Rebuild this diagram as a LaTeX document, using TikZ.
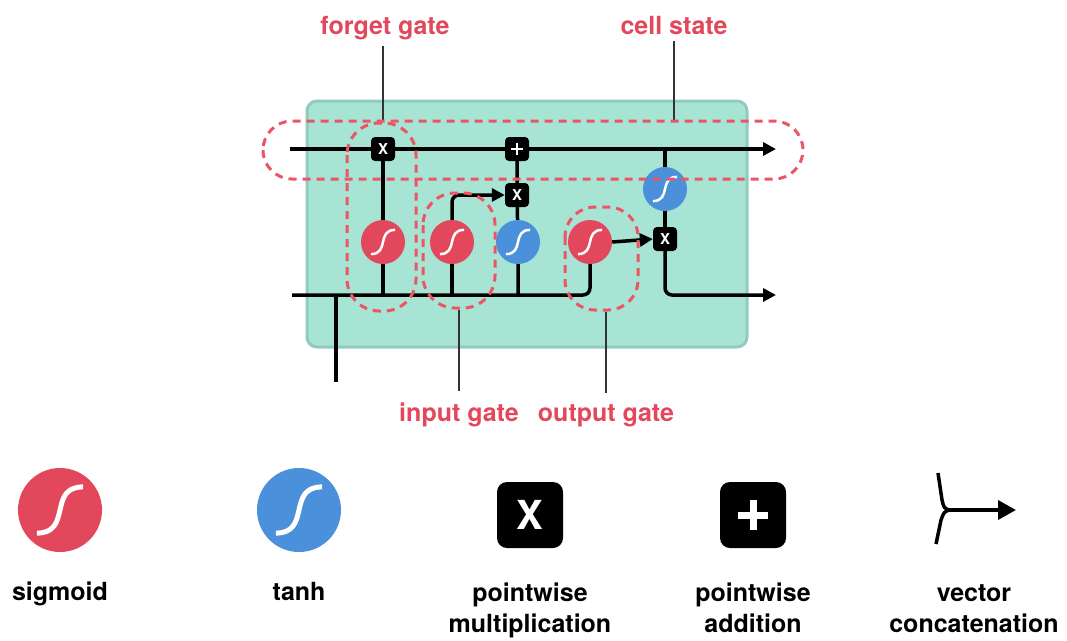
\documentclass[tikz,border=0pt]{standalone}
\usepackage{fontspec}
\setmainfont{TeX Gyre Heros}
\usetikzlibrary{arrows.meta,calc}
\definecolor{lred}{HTML}{E2475B}
\definecolor{dred}{HTML}{EC5564}
\definecolor{lblue}{HTML}{4A90DA}
\definecolor{lgreen}{HTML}{A7E4D4}
\definecolor{lgreenb}{HTML}{8FCCBB}
\pgfdeclarelayer{back}
\pgfdeclarelayer{mid}
\pgfdeclarelayer{front}
\pgfsetlayers{back,mid,main,front}
\tikzset{
  flow/.style={line width=3.5pt, line cap=butt},
  tipA/.style={-{Triangle[length=13pt,width=13pt]}},
  tipB/.style={-{Triangle[length=18pt,width=19pt]}},
  sigc/.style={circle, fill=lred, minimum size=44pt, inner sep=0pt},
  tanc/.style={circle, fill=lblue, minimum size=44pt, inner sep=0pt},
  opbox/.style={rectangle, rounded corners=4pt, fill=black, minimum size=24pt, inner sep=0pt, text=white, font=\fontsize{15}{15}\selectfont\bfseries},
  bigbox/.style={rectangle, rounded corners=10pt, fill=black, minimum size=66pt, inner sep=0pt, text=white, font=\fontsize{40}{40}\selectfont\bfseries},
  gatedash/.style={draw=dred, line width=3pt, dash pattern=on 8pt off 6pt},
  lbl/.style={text=lred, font=\fontsize{25}{30}\selectfont\bfseries, anchor=base},
  leg/.style={font=\fontsize{25}{31}\selectfont\bfseries, anchor=base, align=center},
  pointer/.style={line width=1.5pt, draw=black!80},
  sglyph/.style={draw=white, line width=2.5pt, line cap=butt},
}
\newcommand{\sgl}[3]{% center node, radius, width
  \draw[sglyph, line width=#3] ($(#1)+(-0.55*#2,0.55*#2)$) .. controls ($(#1)+(0.3*#2,0.55*#2)$) and ($(#1)+(-0.3*#2,-0.55*#2)$) .. ($(#1)+(0.55*#2,-0.55*#2)$);}
\begin{document}
\begin{tikzpicture}[x=1pt,y=-1pt]
\useasboundingbox (0,0) rectangle (1067,640);
% cell box
\begin{pgfonlayer}{back}
\draw[fill=lgreen, draw=lgreenb, line width=3pt, rounded corners=10pt] (307,101) rectangle (747,347);
\end{pgfonlayer}
% nodes
\node[opbox] (xf) at (383,149) {X};
\node[opbox] (plus) at (517,149) {};
\draw[white, line width=2.5pt] ($(plus)+(-6,0)$) -- ($(plus)+(6,0)$) ($(plus)+(0,-6)$) -- ($(plus)+(0,6)$);
\node[opbox] (xi) at (517,195) {X};
\node[opbox] (xo) at (665,239) {X};
\node[sigc] (sf) at (383,242) {};
\node[sigc] (si) at (452,242) {};
\node[tanc] (ti) at (518,242) {};
\node[sigc] (so) at (590,242) {};
\node[tanc] (tc) at (665,189) {};
\foreach \n in {sf,si,ti,so,tc}{\sgl{\n}{22}{2.5pt}}
% coordinates
\coordinate (csL) at (290,149);
\coordinate (csR) at (776,149);
\coordinate (hL) at (292,295);
\coordinate (hR) at (776,295);
\coordinate (xin) at (336,382);
\coordinate (xj) at (336,295);
\coordinate (bf) at (383,295);
\coordinate (bi) at (452,295);
\coordinate (bt) at (518,295);
\coordinate (ctap) at (665,149);
\begin{pgfonlayer}{mid}
\draw[flow, tipA] (csL) -- (csR);
\draw[flow, rounded corners=7pt] (hL) -| (so.south);
\draw[flow] (xj) -- (xin);
\draw[flow] (bf) -- (sf) -- (xf);
\draw[flow] (bi) -- (si);
\draw[flow, tipA, rounded corners=7pt] (si.north) |- (xi.west);
\draw[flow] (bt) -- (ti) -- (xi) -- (plus);
\draw[flow, tipA] (so.east) -- (xo.west);
\draw[flow] (ctap) -- (tc) -- (xo);
\draw[flow, tipA, rounded corners=7pt] (xo.south) |- (hR);
\end{pgfonlayer}
% dashed gate outlines
\begin{pgfonlayer}{front}
\draw[gatedash, rounded corners=29pt] (263,121) rectangle (803,179);
\draw[gatedash, rounded corners=32pt] (347,123) rectangle (416,311);
\draw[gatedash, rounded corners=32pt] (423,193) rectangle (495,308);
\draw[gatedash, rounded corners=30pt] (565,207) rectangle (638,310);
\end{pgfonlayer}
% labels
\node[lbl] (lf) at (385,34) {forget gate};
\node[lbl] (lc) at (674,34) {cell state};
\node[lbl] (li) at (459,421) {input gate};
\node[lbl] (lo) at (606,421) {output gate};
\coordinate (pf) at (383,121);
\coordinate (pc) at (674,121);
\coordinate (pi) at (459,310);
\coordinate (po) at (606,312);
\draw[pointer] ($(lf.south)+(-2,3)$) -- (pf);
\draw[pointer] ($(lc.south)+(0,3)$) -- (pc);
\draw[pointer] (pi) -- ($(li.north)+(0,-8)$);
\draw[pointer] (po) -- ($(lo.north)+(0,-8)$);
% legend
\node[sigc, minimum size=84pt] (ls) at (60,510) {};
\node[tanc, minimum size=84pt] (lt) at (299,510) {};
\sgl{ls}{42}{5pt}
\sgl{lt}{42}{5pt}
\node[bigbox] (lx) at (530,515) {X};
\node[bigbox] (lp) at (753,515) {};
\draw[white, line width=7pt] ($(lp)+(-15,0)$) -- ($(lp)+(15,0)$) ($(lp)+(0,-15)$) -- ($(lp)+(0,15)$);
\coordinate (vc1) at (938,473);
\coordinate (vcm) at (949,510);
\coordinate (vc2) at (936,544);
\coordinate (vcR) at (1016,510);
\draw[flow, line join=round] (vc1) -- (942,500) .. controls (944,508) .. (vcm) .. controls (944,512) .. (941,520) -- (vc2);
\draw[flow, tipB] (vcm) -- (vcR);
\node[leg] (t1) at (60,600) {sigmoid};
\node[leg] (t2) at (299,600) {tanh};
\node[leg] (t3) at (530,632) {pointwise\\multiplication};
\node[leg] (t4) at (753,632) {pointwise\\addition};
\node[leg] (t5) at (974,632) {vector\\concatenation};
\end{tikzpicture}
\end{document}
